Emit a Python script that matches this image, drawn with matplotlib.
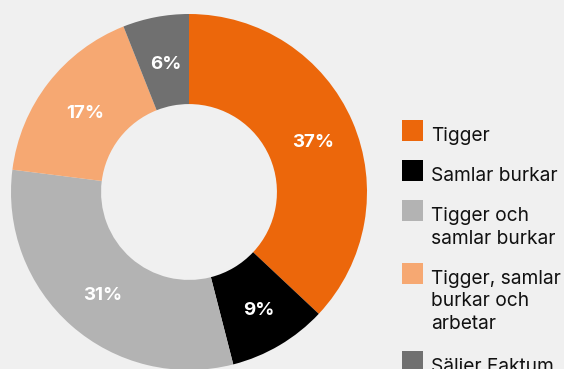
import numpy as np
import matplotlib.pyplot as plt
from matplotlib.patches import Rectangle

categories = ["Tigger", "Samlar burkar", "Tigger och\nsamlar burkar",
              "Tigger, samlar\nburkar och\narbetar", "Säljer Faktum"]
shares = [37, 9, 31, 17, 6]
colors = ["#EC670B", "#000000", "#B3B3B3", "#F6A872", "#707070"]

W, H = 564, 369
bg = "#F0F0F0"
fig = plt.figure(figsize=(W / 100, H / 100), dpi=100, facecolor=bg)

# donut axes, placed in pixel terms
cx, cy, r = 189, 192, 178
ax = fig.add_axes([(cx - r) / W, (H - cy - r) / H, 2 * r / W, 2 * r / H])
ax.set_facecolor(bg)
wedges, _ = ax.pie(shares, colors=colors, startangle=90, counterclock=False,
                   radius=1.0, wedgeprops=dict(width=0.506, linewidth=0))
ax.set_xlim(-1, 1)
ax.set_ylim(-1, 1)
ax.set_aspect("equal")
ax.axis("off")

for w, v in zip(wedges, shares):
    mid = np.deg2rad((w.theta1 + w.theta2) / 2)
    ax.text(0.75 * np.cos(mid) + 0.01, 0.75 * np.sin(mid) - 0.02, f"{v}%",
            ha="center", va="center", color="white", fontsize=13.5,
            fontweight="bold", family="Inter")

# legend drawn on the figure: swatch plus one text line per row
entry_tops = [120, 160, 200, 263, 351]
line_step = 22.5
for label, col, top in zip(categories, colors, entry_tops):
    fig.patches.append(Rectangle((402 / W, (H - top - 21) / H), 21 / W, 21 / H,
                                 transform=fig.transFigure, facecolor=col,
                                 edgecolor="none"))
    for i, line in enumerate(label.split("\n")):
        base = top + 21 + i * line_step
        fig.text(431 / W, (H - base) / H, line, ha="left", va="baseline",
                 fontsize=13.8, family="Inter", color="#111111")

fig.savefig("out.png", dpi=100, facecolor=bg)
